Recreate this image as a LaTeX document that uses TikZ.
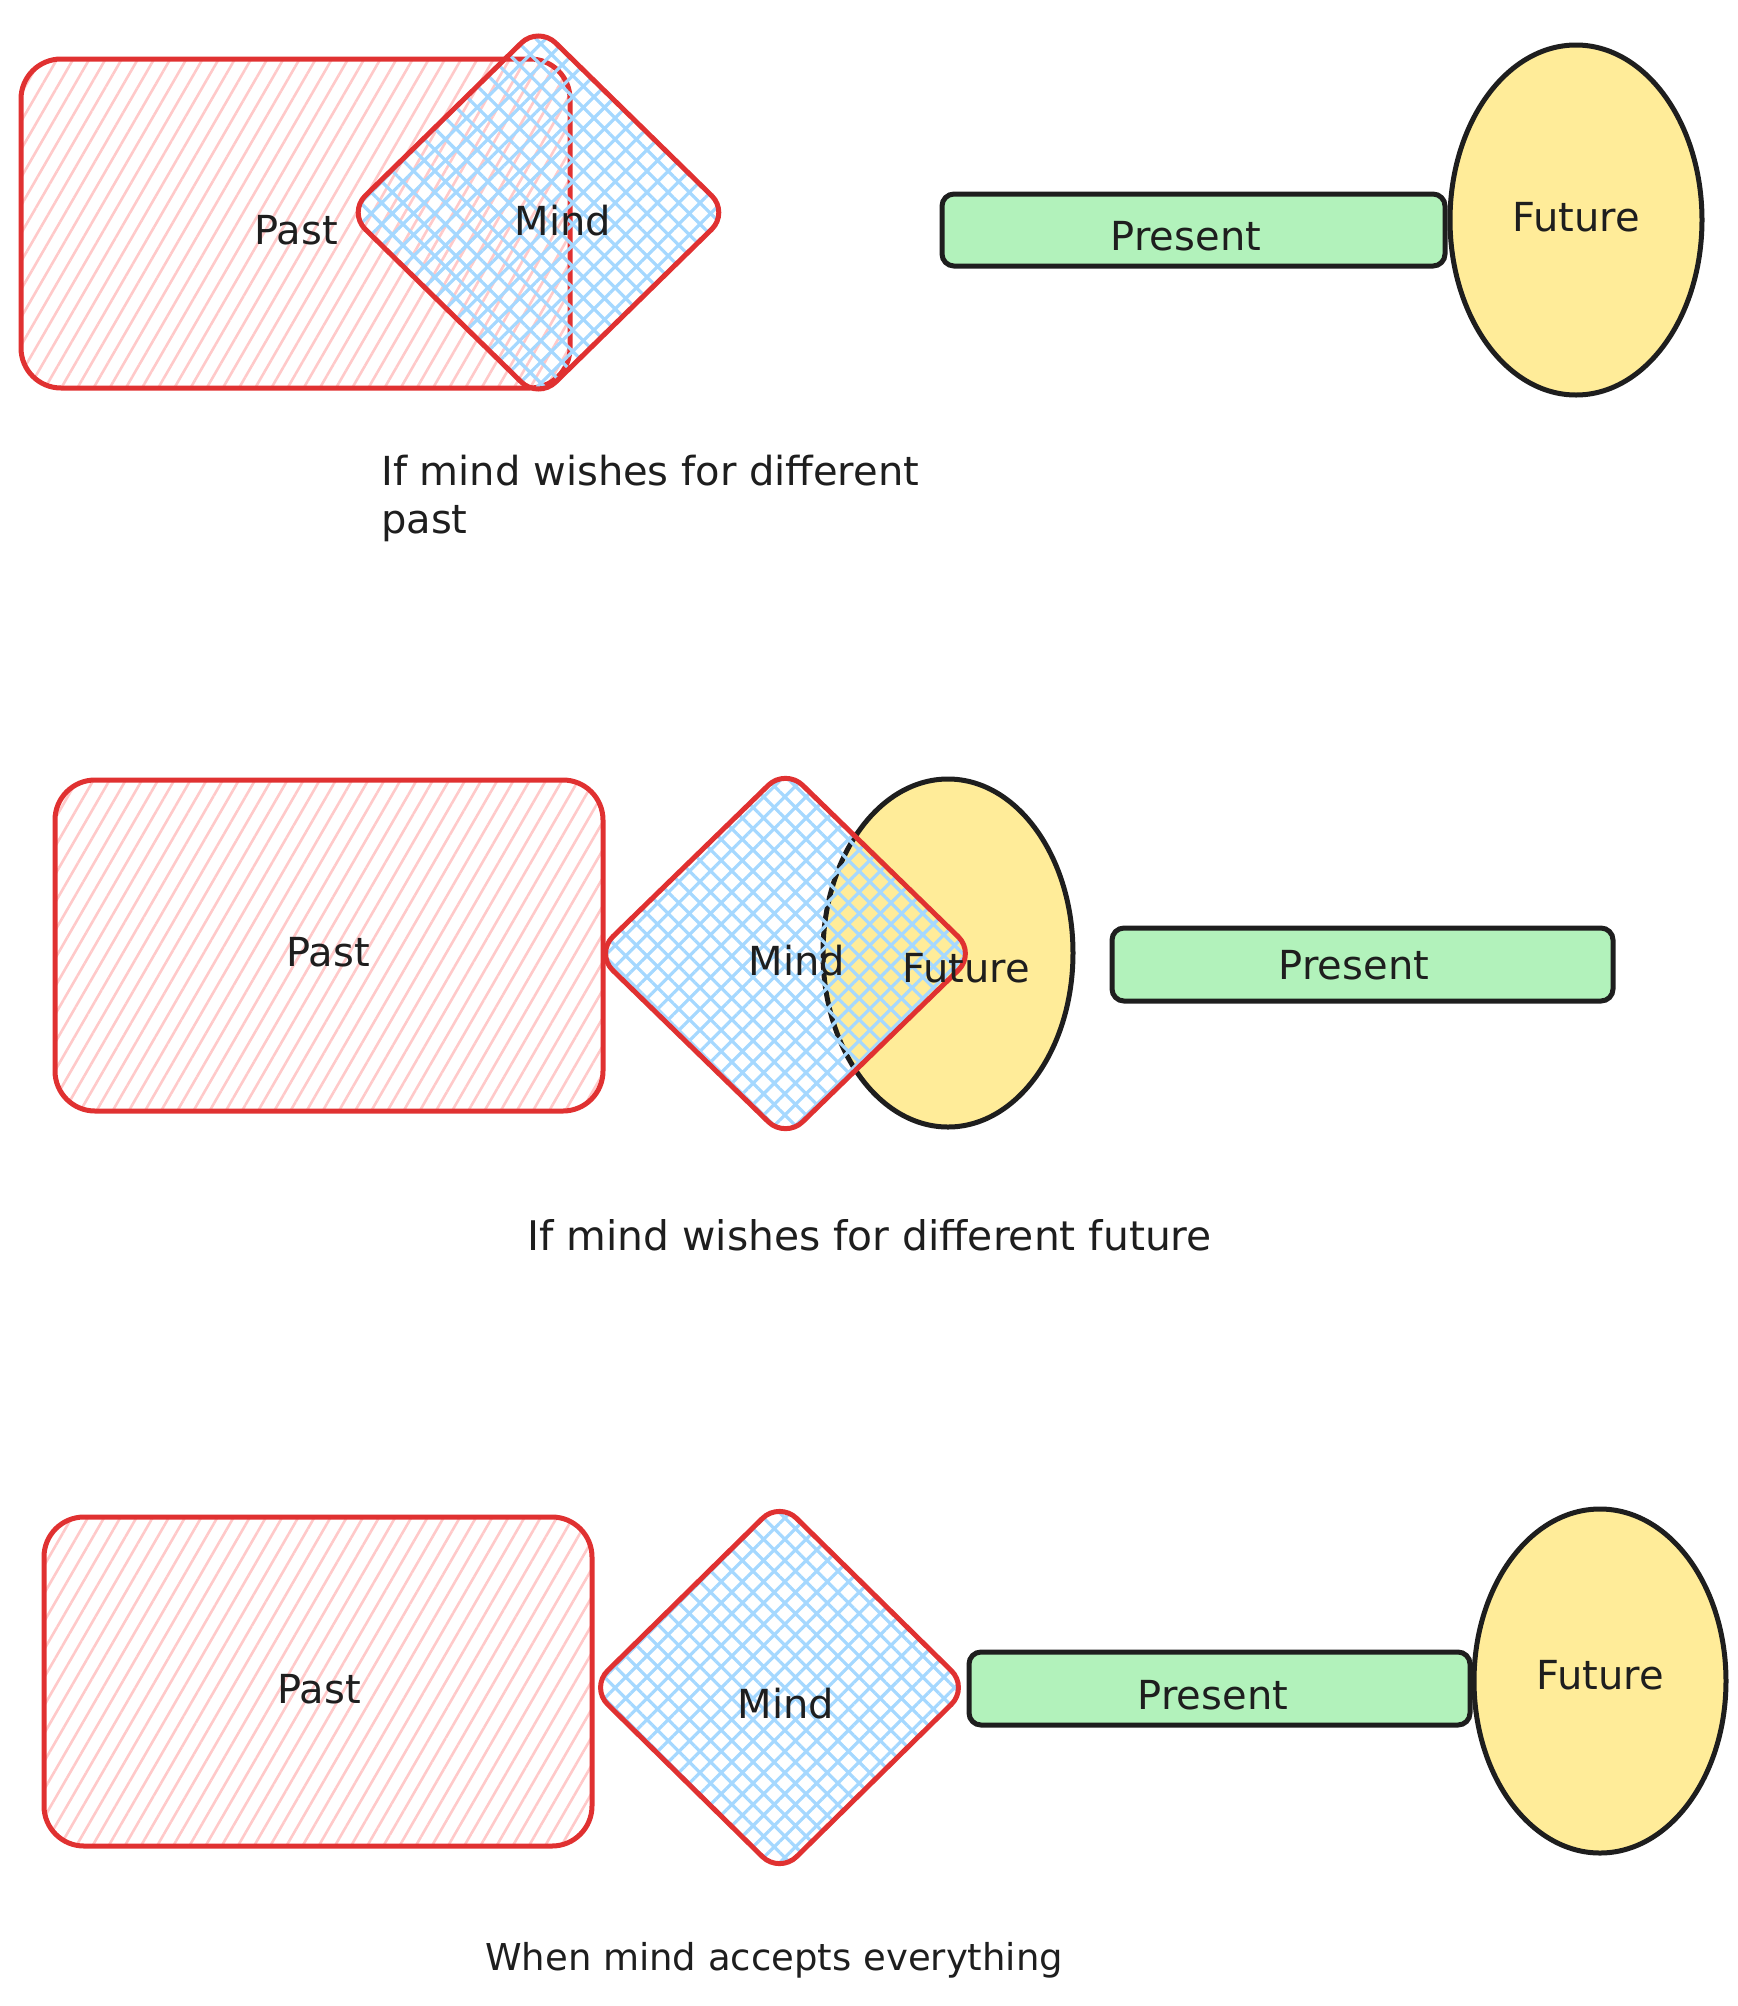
\documentclass[tikz,border=0pt]{standalone}
\usepackage{fontspec}
\setmainfont{DejaVu Sans}
\usetikzlibrary{shapes.geometric,patterns.meta}
\definecolor{pastred}{HTML}{E03131}
\definecolor{hatchred}{HTML}{FFC9C9}
\definecolor{hatchblue}{HTML}{A5D8FF}
\definecolor{ink}{HTML}{1E1E1E}
\definecolor{presgreen}{HTML}{B2F2BB}
\definecolor{futyellow}{HTML}{FFEC99}
\tikzset{
 pastbox/.style={rectangle, draw=pastred, line width=5pt, rounded corners=40pt,
   pattern={Lines[angle=60,distance=14pt,line width=2.6pt]}, pattern color=hatchred, inner sep=0pt},
 mindbox/.style={diamond, draw=pastred, line width=5pt, rounded corners=24pt,
   pattern={Hatch[angle=45,distance=15pt,line width=3.2pt]}, pattern color=hatchblue, inner sep=0pt},
 presbox/.style={rectangle, draw=ink, line width=5pt, fill=presgreen, rounded corners=12pt, inner sep=0pt},
 futbox/.style={ellipse, draw=ink, line width=5pt, fill=futyellow, inner sep=0pt},
 lbl/.style={font=\fontsize{40}{48}\selectfont, text=ink, inner sep=0pt},
}
\begin{document}
\begin{tikzpicture}[x=1pt,y=-1pt]
\useasboundingbox (0,0) rectangle (1738,2006);
% ---------- section 1 ----------
\node[pastbox, minimum width=549pt, minimum height=329pt] (past1) at (295.5,223.5) {};
\node[presbox, minimum width=503pt, minimum height=72pt] (pres1) at (1193.5,230) {};
\node[futbox, minimum width=252pt, minimum height=350pt] (fut1) at (1576,220) {};
\node[mindbox, minimum width=382pt, minimum height=374pt] (mind1) at (538.5,212.5) {};
\node[lbl] (pastlbl1) at (296,230) {Past};
\node[lbl] (mindlbl1) at (563,221) {Mind};
\node[lbl] (preslbl1) at (1186,236) {Present};
\node[lbl] (futlbl1) at (1576,217) {Future};
\node[lbl, anchor=base west, align=left] (cap1) at (381,533) {If mind wishes for different\\past};
% ---------- section 2 ----------
\node[pastbox, minimum width=548pt, minimum height=331pt] (past2) at (329,945.5) {};
\node[futbox, minimum width=250pt, minimum height=348pt] (fut2) at (948,953) {};
\node[mindbox, minimum width=382pt, minimum height=372pt] (mind2) at (785.5,953.5) {};
\node[presbox, minimum width=501pt, minimum height=73pt] (pres2) at (1362.5,964.5) {};
\node[lbl] (pastlbl2) at (328,952) {Past};
\node[lbl] (mindlbl2) at (797,961) {Mind};
\node[lbl] (futlbl2) at (966,968) {Future};
\node[lbl] (preslbl2) at (1354,965) {Present};
\node[lbl, font=\fontsize{40.8}{48}\selectfont, anchor=base west] (cap2) at (527,1250) {If mind wishes for different future};
% ---------- section 3 ----------
\node[pastbox, minimum width=548pt, minimum height=329pt] (past3) at (318,1681.5) {};
\node[presbox, minimum width=501pt, minimum height=73pt] (pres3) at (1219.5,1688.5) {};
\node[futbox, minimum width=252pt, minimum height=344pt] (fut3) at (1600,1681) {};
\node[mindbox, minimum width=380pt, minimum height=374pt] (mind3) at (779.5,1687.5) {};
\node[lbl] (pastlbl3) at (319,1689) {Past};
\node[lbl] (mindlbl3) at (786,1704) {Mind};
\node[lbl] (preslbl3) at (1213,1695) {Present};
\node[lbl] (futlbl3) at (1600,1675) {Future};
\node[lbl, font=\fontsize{37}{44}\selectfont, anchor=base west] (cap3) at (485,1970) {When mind accepts everything};
\end{tikzpicture}
\end{document}
